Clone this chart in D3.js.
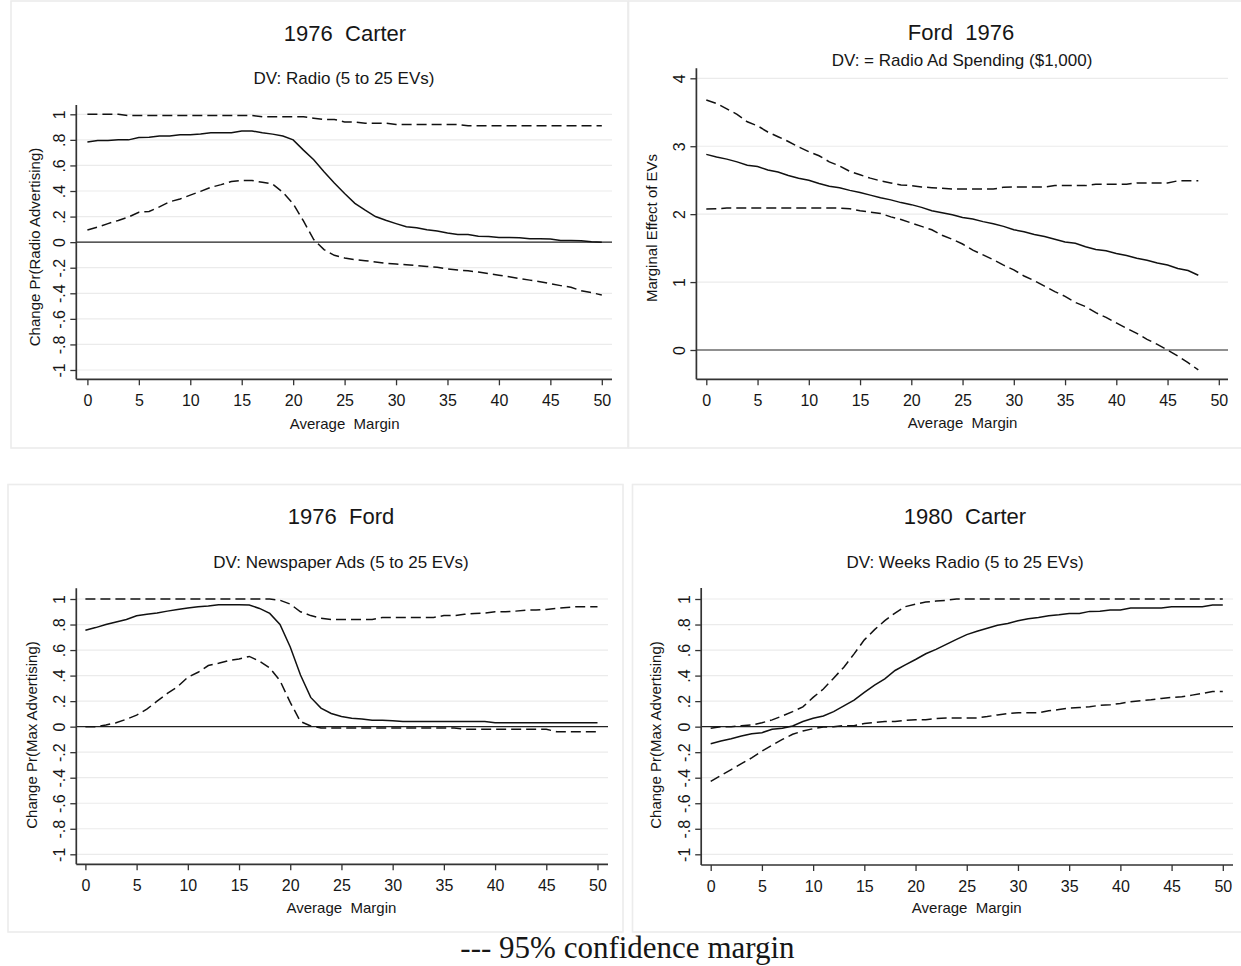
<!DOCTYPE html>
<html><head><meta charset="utf-8">
<script src="https://cdn.jsdelivr.net/npm/d3@7"></script>
<style>
body{margin:0;background:#fff;}
svg{display:block;}
text{font-family:"Liberation Sans",Arial,Helvetica,sans-serif;fill:#161616;}
</style></head><body>
<svg id="chart" width="1241" height="966"></svg>
<script>
// ---------- DATA ----------
const marginX = d3.range(0, 51);      // Average Margin 0..50
const marginXFord = d3.range(0, 49);  // Average Margin 0..48 (Ford 1976 spending)

const carter76Upper = [1.00,1.00,1.00,1.00,0.99,0.99,0.99,0.99,0.99,0.99,0.99,0.99,0.99,0.99,0.99,0.99,0.99,
  0.98,0.98,0.98,0.98,0.98,0.97,0.96,0.96,0.94,0.94,0.93,0.93,0.93,
  0.92,0.92,0.92,0.92,0.92,0.92,0.92,
  0.91,0.91,0.91,0.91,0.91,0.91,0.91,0.91,0.91,0.91,0.91,0.91,0.91,0.91];
const carter76Est = [0.784,0.795,0.795,0.80,0.80,0.818,0.82,0.83,0.83,0.84,0.84,
  0.845,0.855,0.855,0.855,0.87,0.87,0.855,0.845,0.83,0.80,
  0.72,0.645,0.55,0.462,0.38,0.303,0.25,0.20,0.171,0.145,
  0.12,0.113,0.097,0.087,0.071,0.06,0.06,0.047,0.045,0.037,
  0.037,0.034,0.026,0.026,0.024,0.013,0.013,0.01,0.003,0.0];
const carter76Lower = [0.095,0.118,0.145,0.17,0.197,0.234,0.24,0.276,0.316,0.337,0.368,
  0.397,0.429,0.45,0.474,0.482,0.482,0.468,0.455,0.39,0.30,
  0.166,0.02,-0.058,-0.103,-0.124,-0.137,-0.145,-0.155,-0.166,-0.171,
  -0.176,-0.184,-0.19,-0.197,-0.21,-0.218,-0.224,-0.234,-0.247,-0.258,
  -0.271,-0.284,-0.297,-0.31,-0.324,-0.34,-0.353,-0.38,-0.395,-0.413];

const ford76SpendUpper = [3.68,3.63,3.55,3.47,3.36,3.30,3.21,3.14,3.07,2.99,2.92,
  2.86,2.77,2.71,2.63,2.58,2.53,2.49,2.46,2.43,2.42,
  2.40,2.39,2.38,2.37,2.37,2.37,2.37,2.37,2.395,2.40,
  2.40,2.40,2.40,2.42,2.42,2.42,2.42,2.44,2.44,2.44,
  2.44,2.46,2.46,2.46,2.46,2.49,2.49,2.49];
const ford76SpendEst = [2.88,2.84,2.81,2.77,2.72,2.70,2.65,2.62,2.57,2.53,2.50,
  2.45,2.41,2.39,2.35,2.32,2.28,2.24,2.21,2.17,2.14,
  2.10,2.05,2.02,1.99,1.95,1.93,1.89,1.86,1.82,1.77,
  1.74,1.70,1.67,1.63,1.59,1.57,1.52,1.48,1.46,1.42,
  1.39,1.35,1.32,1.28,1.25,1.20,1.17,1.10];
const ford76SpendLower = [2.076,2.08,2.09,2.09,2.09,2.09,2.09,2.09,2.09,2.09,2.09,
  2.09,2.09,2.09,2.08,2.05,2.03,2.01,1.96,1.92,1.87,
  1.82,1.77,1.69,1.63,1.56,1.47,1.40,1.33,1.25,1.18,
  1.09,1.02,0.94,0.86,0.79,0.70,0.64,0.55,0.48,0.40,
  0.32,0.245,0.157,0.083,0.0,-0.088,-0.186,-0.294];

const ford76NewsUpper = [1,1,1,1,1,1,1,1,1,1,1,1,1,1,1,1,1,1,1,
  0.99,0.96,0.90,0.87,0.85,0.84,0.84,0.84,0.84,0.84,
  0.855,0.855,0.855,0.855,0.855,0.855,0.87,0.87,0.88,0.887,0.89,
  0.90,0.90,0.905,0.913,0.913,0.918,0.926,0.934,0.94,0.94,0.94];
const ford76NewsEst = [0.755,0.776,0.80,0.82,0.84,0.868,0.88,0.89,0.905,0.918,0.93,
  0.94,0.945,0.955,0.955,0.955,0.953,0.926,0.887,0.80,0.624,
  0.405,0.229,0.145,0.103,0.079,0.066,0.06,0.05,0.05,0.047,
  0.04,0.04,0.04,0.04,0.04,0.04,0.04,0.04,0.04,0.03,
  0.03,0.03,0.03,0.03,0.03,0.03,0.03,0.03,0.03,0.03];
const ford76NewsLower = [0,0,0.013,0.03,0.058,0.09,0.137,0.20,0.26,0.313,0.387,
  0.426,0.479,0.497,0.518,0.53,0.55,0.513,0.46,0.36,0.19,
  0.04,0.005,
  -0.01,-0.01,-0.01,-0.01,-0.01,-0.01,-0.01,-0.01,-0.01,-0.01,-0.01,-0.01,-0.01,-0.01,
  -0.02,-0.02,-0.02,-0.02,-0.02,-0.02,-0.02,-0.02,-0.02,
  -0.04,-0.04,-0.04,-0.04,-0.04];

const carter80Upper = [-0.013,0,0,0.008,0.013,0.03,0.053,0.084,0.118,0.155,0.229,
  0.295,0.38,0.466,0.57,0.68,0.76,0.83,0.89,0.94,0.96,
  0.976,0.984,0.99,
  1,1,1,1,1,1,1,1,1,1,1,1,1,1,1,1,1,1,1,1,1,1,1,1,1,1,1];
const carter80Est = [-0.134,-0.113,-0.095,-0.074,-0.055,-0.047,-0.021,-0.013,0.005,0.04,0.066,
  0.084,0.118,0.163,0.208,0.268,0.326,0.374,0.44,0.484,0.526,
  0.571,0.605,0.645,0.684,0.721,0.747,0.771,0.795,0.808,0.829,
  0.845,0.855,0.868,0.876,0.887,0.887,0.903,0.905,0.913,0.913,
  0.929,0.929,0.929,0.929,0.94,0.94,0.94,0.94,0.953,0.953];
const carter80Lower = [-0.429,-0.382,-0.337,-0.29,-0.245,-0.192,-0.145,-0.10,-0.06,-0.034,-0.016,
  -0.003,0,0.008,0.008,0.024,0.032,0.04,0.04,0.05,0.055,
  0.055,0.063,0.068,0.068,0.068,0.068,0.079,0.092,0.103,0.108,
  0.108,0.108,0.124,0.134,0.145,0.15,0.155,0.168,0.171,0.182,
  0.195,0.203,0.21,0.221,0.229,0.234,0.247,0.26,0.276,0.276];

const marginTicks = [0,5,10,15,20,25,30,35,40,45,50];
const marginTickLabels = ["0","5","10","15","20","25","30","35","40","45","50"];
const probTicks = [-1,-0.8,-0.6,-0.4,-0.2,0,0.2,0.4,0.6,0.8,1];
const probTickLabels = ["-1","-.8","-.6","-.4","-.2","0",".2",".4",".6",".8","1"];
const effectTicks = [0,1,2,3,4];
const effectTickLabels = ["0","1","2","3","4"];

const titles = ["1976  Carter","Ford  1976","1976  Ford","1980  Carter"];
const subtitles = ["DV: Radio (5 to 25 EVs)","DV: = Radio Ad Spending ($1,000)",
  "DV: Newspaper Ads (5 to 25 EVs)","DV: Weeks Radio (5 to 25 EVs)"];
const yTitles = ["Change Pr(Radio Advertising)","Marginal Effect of EVs",
  "Change Pr(Max Advertising)","Change Pr(Max Advertising)"];
const xTitle = "Average  Margin";
const footnote = "--- 95% confidence margin";

// ---------- LAYOUT ----------
const panels = [
  {frame:[11,1,617,447], xr:[87.4,601.8], yd:[-1,1], yr:[370,114.3], ax:76.3, ay:379.3, top:105, right:612,
   tx:345, ty:40.7, sx:344, sy:84, ytx:40, yty:247, xty:429,
   x:marginX, up:carter76Upper, est:carter76Est, lo:carter76Lower, ticks:probTicks, tlabels:probTickLabels},
  {frame:[628.5,1,620,447], xr:[706.3,1218.8], yd:[0,4], yr:[350,78.3], ax:696.4, ay:379.3, top:68.3, right:1228,
   tx:961, ty:40, sx:962, sy:65.5, ytx:657, yty:228, xty:428.3,
   x:marginXFord, up:ford76SpendUpper, est:ford76SpendEst, lo:ford76SpendLower, ticks:effectTicks, tlabels:effectTickLabels},
  {frame:[8,484.5,615,447.5], xr:[85.4,597.5], yd:[-1,1], yr:[854.3,599], ax:76.3, ay:864.3, top:588.3, right:608,
   tx:341, ty:524, sx:341, sy:568, ytx:37, yty:735, xty:913.3,
   x:marginX, up:ford76NewsUpper, est:ford76NewsEst, lo:ford76NewsLower, ticks:probTicks, tlabels:probTickLabels},
  {frame:[632.5,484.5,620,447.5], xr:[710.7,1222.8], yd:[-1,1], yr:[854.3,599], ax:701.2, ay:865, top:588, right:1233,
   tx:965, ty:524, sx:965, sy:568, ytx:661, yty:735, xty:913.3,
   x:marginX, up:carter80Upper, est:carter80Est, lo:carter80Lower, ticks:probTicks, tlabels:probTickLabels}
];

const svg = d3.select("#chart");
svg.append("rect").attr("width",1241).attr("height",966).attr("fill","#fff");

panels.forEach((p,i) => {
  const g = svg.append("g");
  g.append("rect").attr("x",p.frame[0]).attr("y",p.frame[1]).attr("width",p.frame[2]).attr("height",p.frame[3])
    .attr("fill","#fff").attr("stroke","#ececec").attr("stroke-width",1.6);

  const x = d3.scaleLinear().domain([0,50]).range(p.xr);
  const y = d3.scaleLinear().domain(p.yd).range(p.yr);

  // grid
  g.selectAll(".grid").data(p.ticks.filter(t => t !== 0)).join("line")
    .attr("x1",p.ax).attr("x2",p.right).attr("y1",d=>y(d)).attr("y2",d=>y(d))
    .attr("stroke","#ebebeb").attr("stroke-width",1.2);
  // zero reference line
  g.append("line").attr("x1",p.ax).attr("x2",p.right).attr("y1",y(0)).attr("y2",y(0))
    .attr("stroke","#222").attr("stroke-width",1.1);

  // axes
  const yAxis = d3.axisLeft(y).tickValues(p.ticks).tickFormat((d,k)=>p.tlabels[k]).tickSize(6);
  const ya = g.append("g").attr("transform",`translate(${p.ax},0)`).call(yAxis);
  ya.select(".domain").remove();
  ya.selectAll(".tick line").attr("stroke","#333").attr("stroke-width",1.3);
  ya.selectAll(".tick text").attr("x",null).attr("dy",null)
    .attr("transform","translate(-11.5,0) rotate(-90)").attr("text-anchor","middle")
    .style("font-size","16px").style("font-family",'"Liberation Sans",Arial,sans-serif').attr("fill","#161616");

  const xAxis = d3.axisBottom(x).tickValues(marginTicks).tickFormat((d,k)=>marginTickLabels[k]).tickSize(6);
  const xa = g.append("g").attr("transform",`translate(0,${p.ay})`).call(xAxis);
  xa.select(".domain").remove();
  xa.selectAll(".tick line").attr("stroke","#333").attr("stroke-width",1.3);
  xa.selectAll(".tick text").attr("y",27).attr("dy",null)
    .style("font-size","16px").style("font-family",'"Liberation Sans",Arial,sans-serif').attr("fill","#161616");

  g.append("line").attr("x1",p.ax).attr("x2",p.ax).attr("y1",p.top).attr("y2",p.ay)
    .attr("stroke","#333").attr("stroke-width",1.7);
  g.append("line").attr("x1",p.ax).attr("x2",p.right).attr("y1",p.ay).attr("y2",p.ay)
    .attr("stroke","#333").attr("stroke-width",1.7);

  // series
  const line = d3.line().x((d,k)=>x(p.x[k])).y(d=>y(d));
  g.append("path").attr("d",line(p.up)).attr("fill","none").attr("stroke","#111")
    .attr("stroke-width",1.5).attr("stroke-dasharray","10,5");
  g.append("path").attr("d",line(p.lo)).attr("fill","none").attr("stroke","#111")
    .attr("stroke-width",1.5).attr("stroke-dasharray","10,5");
  g.append("path").attr("d",line(p.est)).attr("fill","none").attr("stroke","#111")
    .attr("stroke-width",1.5);

  // texts
  g.append("text").attr("x",p.tx).attr("y",p.ty).attr("text-anchor","middle")
    .style("font-size","22px").style("white-space","pre").text(titles[i]);
  g.append("text").attr("x",p.sx).attr("y",p.sy).attr("text-anchor","middle")
    .style("font-size","17px").text(subtitles[i]);
  g.append("text").attr("transform",`translate(${p.ytx},${p.yty}) rotate(-90)`).attr("text-anchor","middle")
    .style("font-size","15px").text(yTitles[i]);
  g.append("text").attr("x",(p.xr[0]+p.xr[1])/2).attr("y",p.xty).attr("text-anchor","middle")
    .style("font-size","15px").style("white-space","pre").text(xTitle);
});

svg.append("text").attr("x",627.5).attr("y",958).attr("text-anchor","middle")
  .style("font-family",'"Liberation Serif","Times New Roman",serif').style("font-size","31px")
  .attr("fill","#000").text(footnote);
</script>
</body></html>
